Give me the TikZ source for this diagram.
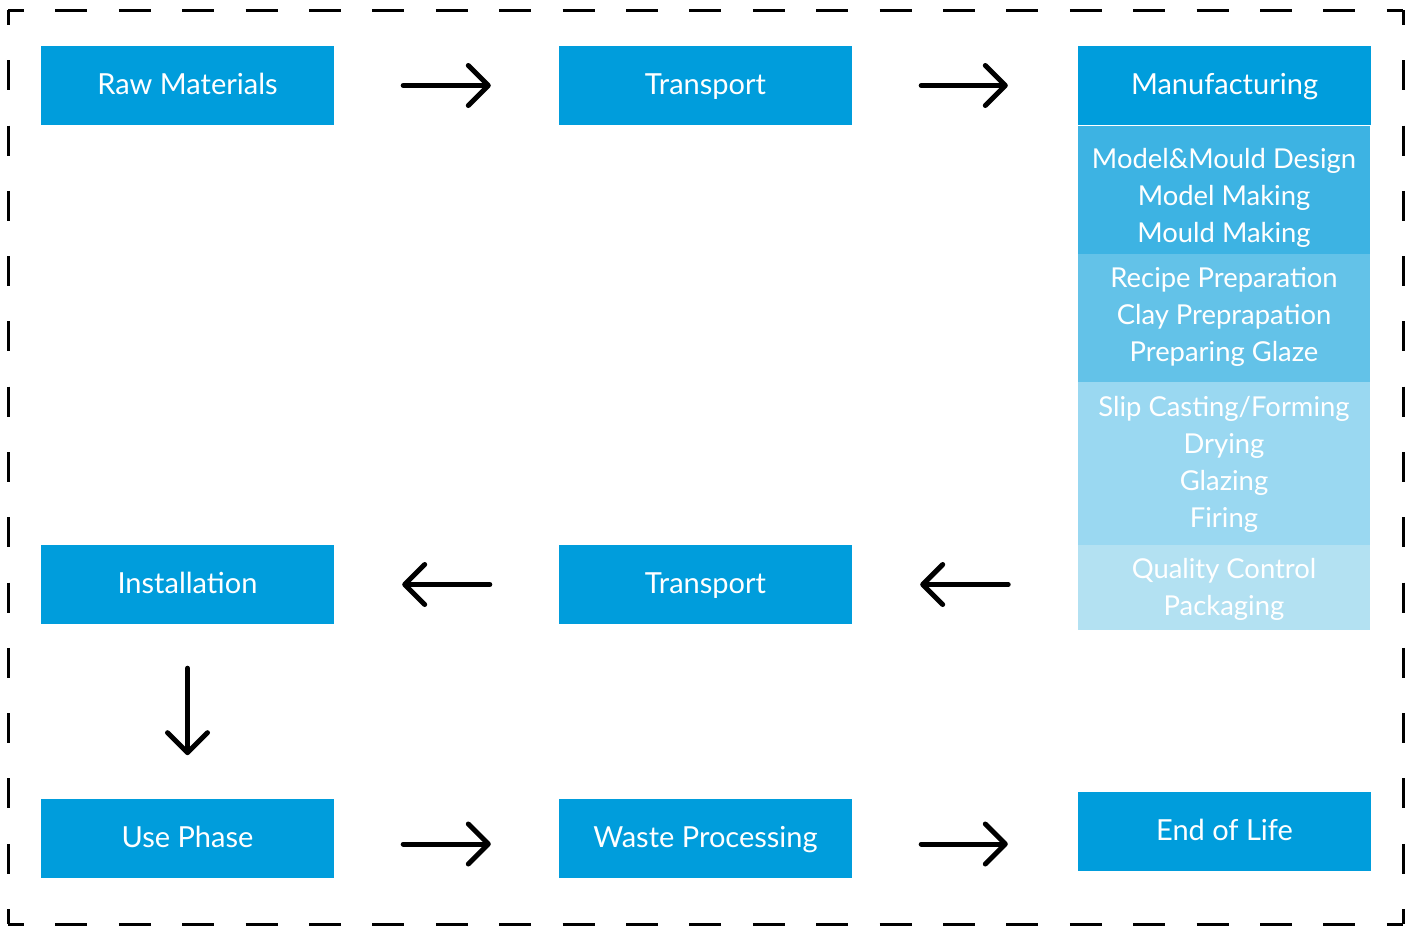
\documentclass[tikz,border=0pt]{standalone}
\usepackage{fontspec}
\setmainfont{Lato}
\usetikzlibrary{arrows.meta}
\definecolor{mainblue}{RGB}{0,157,220}
\definecolor{subA}{RGB}{61,179,227}
\definecolor{subB}{RGB}{99,194,232}
\definecolor{subC}{RGB}{154,216,241}
\definecolor{subD}{RGB}{179,225,242}
\tikzset{
  stage/.style={fill=mainblue, text=white, minimum width=293pt, minimum height=79pt, inner sep=0pt, text height=21pt, text depth=4pt, font=\fontsize{29}{34}\selectfont},
  subbox/.style={minimum width=292pt, inner sep=0pt},
  subtext/.style={text=white, inner sep=0pt, align=center, font=\fontsize{27.4}{37}\selectfont},
  arr/.style={line width=5pt, line cap=round, -{Straight Barb[length=20pt,width=40pt,round]}},
  framehor/.style={line width=3pt, dash pattern=on 32pt off 31.4pt, dash phase=16pt},
  framever/.style={line width=3pt, dash pattern=on 30pt off 35.29pt, dash phase=15pt}
}
\begin{document}
\begin{tikzpicture}[x=1pt,y=-1pt]
\useasboundingbox (0,0) rectangle (1413,926);
\fill[white] (0,0) rectangle (1413,926);
\coordinate (tl) at (8,10);
\coordinate (tr) at (1403,10);
\coordinate (bl) at (8,924);
\coordinate (br) at (1403,924);
\draw[framehor] (tl) -- (tr);
\draw[framehor] (bl) -- (br);
\draw[framever] (tl) -- (bl);
\draw[framever] (tr) -- (br);

\node[stage] (raw) at (187.5,85.5) {Raw Materials};
\node[stage] (tr1) at (705.5,85.5) {Transport};
\node[stage] (man) at (1224.5,85.5) {Manufacturing};

\node[subbox, fill=subA, minimum height=128pt] (m1) at (1224,190) {};
\node[subbox, fill=subB, minimum height=128pt] (m2) at (1224,318) {};
\node[subbox, fill=subC, minimum height=163pt] (m3) at (1224,463.5) {};
\node[subbox, fill=subD, minimum height=85pt] (m4) at (1224,587.5) {};
\node[subtext] (m1t) at (1224,198) {Model\&Mould Design\\Model Making\\Mould Making};
\node[subtext] (m2t) at (1224,317) {Recipe Preparation\\Clay Preprapation\\Preparing Glaze};
\node[subtext] (m3t) at (1224,464) {Slip Casting/Forming\\Drying\\Glazing\\Firing};
\node[subtext] (m4t) at (1224,589.5) {Quality Control\\Packaging};

\node[stage] (inst) at (187.5,584.5) {Installation};
\node[stage] (tr2) at (705.5,584.5) {Transport};

\node[stage] (use) at (187.5,838.5) {Use Phase};
\node[stage] (waste) at (705.5,838.5) {Waste Processing};
\node[stage] (eol) at (1224.5,831.5) {End of Life};

\draw[arr] ([xshift=69pt]raw.east) -- ([xshift=-68pt]tr1.west);
\draw[arr] ([xshift=69pt]tr1.east) -- ([xshift=-70pt]man.west);
\draw[arr] ([xshift=156pt]tr2.east) -- ([xshift=68pt]tr2.east);
\draw[arr] ([xshift=-69pt]tr2.west) -- ([xshift=68pt]inst.east);
\draw[arr] ([yshift=-44pt]inst.south) -- ([yshift=-131pt]inst.south);
\draw[arr] ([xshift=69pt,yshift=-5.5pt]use.east) -- ([xshift=-68pt,yshift=-5.5pt]waste.west);
\draw[arr] ([xshift=69pt,yshift=-5.5pt]waste.east) -- ([xshift=-70pt,yshift=-5.5pt]waste.east -| eol.west);
\end{tikzpicture}
\end{document}
